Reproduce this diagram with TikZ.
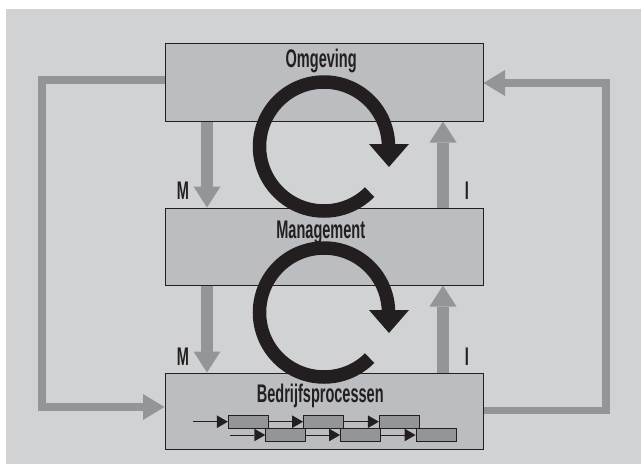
\documentclass[tikz,border=0pt]{standalone}
\usepackage{fontspec}
\usetikzlibrary{arrows.meta}
\newfontfamily\condfont[FakeStretch=0.57]{Liberation Sans}
\definecolor{bgc}{HTML}{D1D2D4}
\definecolor{boxc}{HTML}{BCBDC0}
\definecolor{arrc}{HTML}{939598}
\definecolor{inkc}{HTML}{231F20}
\begin{document}
\begin{tikzpicture}[x=1pt,y=-1pt,
  bigbox/.style={draw=inkc,line width=1pt,fill=boxc,minimum width=318pt,inner sep=0pt},
  smallbox/.style={draw=inkc,line width=0.9pt,fill=arrc,minimum width=40pt,minimum height=13.3pt,inner sep=0pt},
  title/.style={text=inkc,anchor=base,inner sep=0pt,font=\condfont\bfseries\fontsize{25.5}{25.5}\selectfont},
  vflow/.style={draw=arrc,line width=12.6pt,-{Triangle[width=27pt,length=21pt,line width=0pt]}},
  sideflow/.style={draw=arrc,line width=7.7pt,-{Triangle[width=26pt,length=21.5pt,line width=0pt]}},
  cycleline/.style={draw=inkc,line width=13.5pt},
  chain/.style={draw=inkc,line width=0.9pt,-{Triangle[width=12.7pt,length=11pt,line width=0pt]}}
]
\useasboundingbox (0,0) rectangle (641,464);
\fill[bgc] (6,9) rectangle (641,464);

% main boxes
\node[bigbox,minimum height=78pt] (om) at (324,82) {};
\node[bigbox,minimum height=77pt] (mg) at (324,246.5) {};
\node[bigbox,minimum height=76pt] (bp) at (324,411) {};

% helper coordinates
\coordinate (cM) at (207,0);
\coordinate (cI) at (443,0);
\coordinate (cLtop) at (42,80);
\coordinate (cLbot) at (42,407);
\coordinate (cRbot) at (606,410.5);
\coordinate (cRtop) at (606,83);

% vertical flows
\draw[vflow] (om.south -| cM) -- (mg.north -| cM);
\draw[vflow] (mg.south -| cM) -- (bp.north -| cM);
\draw[vflow] (mg.north -| cI) -- (om.south -| cI);
\draw[vflow] (bp.north -| cI) -- (mg.south -| cI);

% outer loops
\draw[sideflow] (cLtop -| om.west) -- (cLtop) -- (cLbot) -- (cLbot -| bp.west);
\draw[sideflow] (cRbot -| bp.east) -- (cRbot) -- (cRtop) -- (cRtop -| om.east);

% circular arrows
\draw[cycleline] (324,146.5) ++(45:64.5) arc[start angle=45,end angle=360,radius=64.5];
\fill[inkc] (369,144) -- (409,144) -- (389,167) -- cycle;
\draw[cycleline] (324,312.5) ++(45:64.5) arc[start angle=45,end angle=360,radius=64.5];
\fill[inkc] (369,310) -- (409,310) -- (389,333) -- cycle;

% titles
\node[title] (tom) at (321.2,67.7) {Omgeving};
\node[title] (tmg) at (320.8,238.6) {Management};
\node[title] (tbp) at (320.3,402.7) {Bedrijfsprocessen};
\node[title] (lm1) at (183,199) {M};
\node[title] (lm2) at (183,365) {M};
\node[title] (li1) at (467,199) {I};
\node[title] (li2) at (467,365) {I};

% process chain
\node[smallbox] (p1) at (248.3,421.7) {};
\node[smallbox] (p2) at (323.5,421.7) {};
\node[smallbox] (p3) at (399.3,421.7) {};
\node[smallbox] (q1) at (285.7,435) {};
\node[smallbox] (q2) at (360.5,435) {};
\node[smallbox] (q3) at (436,435) {};
\coordinate (r1s) at (193.3,421.7);
\coordinate (r2s) at (230,435);
\draw[chain] (r1s) -- (p1.west);
\draw[chain] (p1.east) -- (p2.west);
\draw[chain] (p2.east) -- (p3.west);
\draw[chain] (r2s) -- (q1.west);
\draw[chain] (q1.east) -- (q2.west);
\draw[chain] (q2.east) -- (q3.west);
\end{tikzpicture}
\end{document}
